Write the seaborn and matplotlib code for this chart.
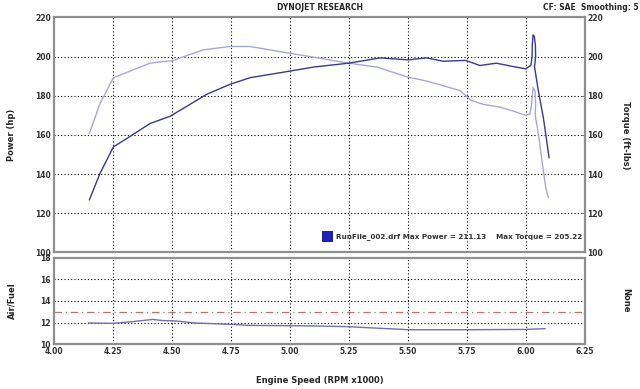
import numpy as np
import pandas as pd
import seaborn as sns
import matplotlib.pyplot as plt
from matplotlib.patches import Rectangle

# Power run (order matters: the trace loops back just past 6.00)
pwr_rpm = [4.151, 4.196, 4.253, 4.309, 4.408, 4.493, 4.564, 4.648, 4.747, 4.832, 4.973,
           5.10, 5.25, 5.383, 5.50, 5.58, 5.65, 5.746, 5.806, 5.876, 5.946, 6.000,
           6.022, 6.027, 6.028, 6.031, 6.036, 6.041, 6.042, 6.039, 6.037,
           6.054, 6.075, 6.089, 6.099]
pwr_hp = [126.8, 140.3, 153.9, 158.1, 165.8, 169.5, 174.6, 180.7, 185.8, 189.2, 192.0,
          194.6, 196.6, 199.3, 198.3, 199.3, 197.6, 198.0, 195.4, 196.6, 194.9, 193.7,
          195.5, 200.0, 206.0, 211.0, 210.5, 206.0, 200.0, 196.5, 195.0,
          182.2, 168.6, 156.8, 148.3]

trq_rpm = [4.151, 4.196, 4.253, 4.323, 4.408, 4.507, 4.564, 4.634, 4.747, 4.832, 4.973,
           5.10, 5.25, 5.37, 5.50, 5.58, 5.72, 5.77, 5.82, 5.89, 5.946, 6.000,
           6.018, 6.025, 6.031, 6.040, 6.042, 6.040,
           6.054, 6.071, 6.085, 6.096]
trq_ftlb = [160.7, 175.9, 189.2, 192.5, 196.6, 198.0, 200.5, 203.4, 205.1, 205.1, 202.2,
            199.7, 196.6, 194.6, 189.5, 187.5, 182.7, 177.6, 175.6, 174.2, 172.2, 170.0,
            170.7, 175.4, 184.2, 182.2, 175.4, 170.3,
            160.2, 144.9, 133.0, 128.0]

afr_rpm = [4.147, 4.25, 4.335, 4.42, 4.46, 4.52, 4.60, 4.75, 4.83, 5.00, 5.10,
           5.25, 5.384, 5.48, 5.50, 5.75, 6.00, 6.083]
afr = [11.97, 11.94, 12.1, 12.3, 12.2, 12.15, 11.97, 11.85, 11.75, 11.72, 11.7,
       11.63, 11.48, 11.38, 11.35, 11.35, 11.38, 11.45]
afr_target = 13.0

x_ticks = [4.00, 4.25, 4.50, 4.75, 5.00, 5.25, 5.50, 5.75, 6.00, 6.25]
top_ticks = [100, 120, 140, 160, 180, 200, 220]
bot_ticks = [10, 12, 14, 16, 18]

sns.set_style("white")
plt.rcParams['font.family'] = ['DejaVu Sans']
plt.rcParams['font.size'] = 5.5
plt.rcParams['font.weight'] = 'bold'

fig = plt.figure(figsize=(6.4, 3.89), dpi=100)
ax = fig.add_axes([0.0839, 0.3509, 0.8297, 0.6046])
ax2 = fig.add_axes([0.0839, 0.1147, 0.8297, 0.2231])

df_p = pd.DataFrame({"rpm": pwr_rpm, "v": pwr_hp})
df_t = pd.DataFrame({"rpm": trq_rpm, "v": trq_ftlb})
df_a = pd.DataFrame({"rpm": afr_rpm, "v": afr})

sns.lineplot(data=df_t, x="rpm", y="v", sort=False, estimator=None, color="#a8a8d6", lw=1.0, ax=ax)
sns.lineplot(data=df_p, x="rpm", y="v", sort=False, estimator=None, color="#3a3a8c", lw=1.0, ax=ax)
sns.lineplot(data=df_a, x="rpm", y="v", sort=False, estimator=None, color="#7070b0", lw=1.0, ax=ax2)
ax2.axhline(afr_target, color="#c07070", lw=0.9, ls=(0, (6, 3, 1, 3)))

for a, yt, yl in [(ax, top_ticks, (100, 220)), (ax2, bot_ticks, (10, 18))]:
    a.set_xlim(4.0, 6.25)
    a.set_ylim(*yl)
    a.set_xticks(x_ticks)
    a.set_yticks(yt)
    a.set_xlabel("")
    a.set_ylabel("")
    for x in x_ticks[1:-1]:
        a.axvline(x, color="black", lw=0.8, ls=(0, (1, 2)), zorder=0)
    for y in yt[1:-1]:
        a.axhline(y, color="black", lw=0.8, ls=(0, (1, 2)), zorder=0)
    for s in a.spines.values():
        s.set_color("#8f8f8f")
        s.set_linewidth(1.6)
    a.minorticks_on()
    a.tick_params(which="both", direction="in", color="#666666", width=0.6)
    a.tick_params(which="major", length=3, labelsize=5.5, labelcolor="#333333", pad=2)
    a.tick_params(which="minor", length=1.5)

ax.set_yticks(np.arange(100, 221, 4), minor=True)
ax.tick_params(axis="x", which="both", labelbottom=False, bottom=False)
ax.tick_params(axis="y", which="major", right=True, labelright=True)
ax2.set_yticks(np.arange(10, 18.1, 0.5), minor=True)
ax2.set_xticks(np.arange(4.0, 6.26, 0.05), minor=True)

fig.text(0.5, 0.982, "DYNOJET RESEARCH", ha="center", va="center", fontsize=5.5, weight="bold")
fig.text(0.998, 0.982, "CF: SAE  Smoothing: 5", ha="right", va="center", fontsize=5.5, weight="bold")
fig.text(0.018, 0.653, "Power (hp)", rotation=90, ha="center", va="center", fontsize=6, weight="bold")
fig.text(0.977, 0.653, "Torque (ft-lbs)", rotation=-90, ha="center", va="center", fontsize=6, weight="bold")
fig.text(0.018, 0.228, "Air/Fuel", rotation=90, ha="center", va="center", fontsize=6, weight="bold")
fig.text(0.977, 0.228, "None", rotation=-90, ha="center", va="center", fontsize=6, weight="bold")
fig.text(0.5, 0.023, "Engine Speed (RPM x1000)", ha="center", va="center", fontsize=6, weight="bold")

ax.add_patch(Rectangle((0.505, 0.049), 0.019, 0.042, transform=ax.transAxes,
                       facecolor="#2020c0", edgecolor="#101060", lw=0.6))
ax.text(0.531, 0.07, "RunFile_002.drf Max Power = 211.13    Max Torque = 205.22",
        transform=ax.transAxes, ha="left", va="center", fontsize=5.2, weight="bold", color="#333333")

fig.savefig("out.png", dpi=100)
